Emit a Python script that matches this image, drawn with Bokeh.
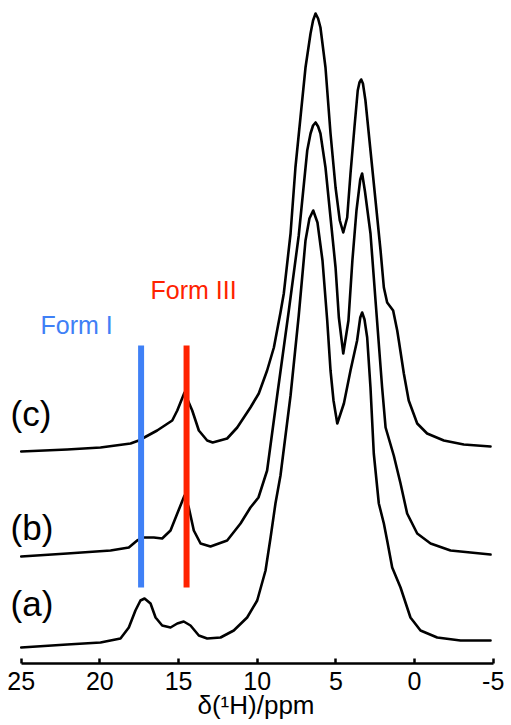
from bokeh.plotting import figure
from bokeh.models import Range1d, FixedTicker, Label, PrintfTickFormatter
from bokeh.embed import file_html
from bokeh.resources import INLINE

# ---- data (chemical shift in ppm, intensity in arbitrary units) ----
trace_a_ppm = [25.0, 22.08, 19.96, 18.69, 18.16, 17.74, 17.42, 17.16, 16.78, 16.46,
               16.04, 15.51, 15.08, 14.67, 14.24, 13.71, 13.18, 12.33, 11.49, 10.64,
               10.00, 9.47, 9.15, 8.84, 8.52, 7.88, 7.36, 6.93, 6.68, 6.44,
               6.17, 5.85, 5.55, 5.34, 5.15, 4.91, 4.49, 4.07, 3.65, 3.45, 3.33,
               3.18, 3.01, 2.80, 2.59, 2.27, 1.95, 1.74, 1.42, 0.89, 0.26, -0.38,
               -1.44, -2.92, -4.83]
trace_a_int = [0, 3, 5, 9, 20, 37, 47, 49, 44, 30,
               22, 20, 24, 26, 22, 12, 9, 10, 17, 30,
               47, 77, 110, 144, 172, 252, 332, 407, 429, 437,
               425, 387, 327, 277, 247, 224, 244, 277, 307, 330, 335,
               328, 310, 260, 194, 144, 124, 107, 80, 60, 30, 17,
               10, 7, 7]

trace_b_ppm = [25.0, 22.08, 19.32, 18.16, 17.63, 17.21, 16.57, 16.04, 15.51, 15.08,
               14.62, 14.35, 14.03, 13.60, 12.97, 11.91, 11.06, 10.43, 9.92, 9.37,
               8.73, 7.99, 7.36, 6.82, 6.61, 6.45, 6.29, 6.13, 5.98, 5.66, 5.34, 5.02,
               4.81, 4.53, 4.20, 3.95, 3.69, 3.45, 3.33, 3.15, 2.80, 2.48, 2.06, 1.84,
               1.32, 0.89, 0.47, -0.17, -1.02, -2.29, -4.83]
trace_b_int = [0, 3, 6, 9, 16, 19, 19, 18, 26, 43,
               61, 49, 26, 13, 10, 16, 33, 49, 59, 86,
               161, 246, 321, 406, 423, 431, 434, 430, 423, 389, 339, 289,
               239, 203, 236, 296, 346, 377, 383, 365, 323, 256, 169, 129,
               101, 73, 43, 23, 13, 6, 2]

trace_c_ppm = [25.0, 22.08, 19.96, 18.05, 17.53, 16.36, 15.40, 15.08, 14.62, 14.13,
               13.71, 13.18, 12.83, 11.91, 11.27, 10.43, 9.90, 9.37, 8.94, 8.52,
               8.31, 7.88, 7.57, 7.25, 6.93, 6.61, 6.45, 6.29, 6.13, 5.98, 5.66, 5.34,
               5.02, 4.75, 4.53, 4.28, 4.07, 3.82, 3.61, 3.50, 3.39, 3.28, 3.12, 2.80,
               2.48, 2.16, 1.95, 1.74, 1.36, 1.10, 1.00, 0.68, 0.37, -0.17,
               -0.80, -1.86, -3.13, -4.83]
trace_c_int = [0, 2, 4, 8, 11, 21, 31, 41, 59, 41,
               21, 11, 9, 13, 24, 44, 58, 81, 104, 139,
               158, 218, 284, 334, 384, 418, 431, 438, 433, 424, 384, 318,
               264, 231, 219, 234, 278, 324, 361, 369, 372, 368, 351, 301,
               251, 201, 164, 149, 141, 121, 111, 78, 51, 28,
               18, 11, 7, 5]

trace_labels = ["(a)", "(b)", "(c)"]
form_names = ["Form I", "Form III"]
form_ppm = [17.38, 14.49]
tick_values = [25, 20, 15, 10, 5, 0, -5]
x_title = "δ(¹H)/ppm"

# ---- styling / layout ----
offsets = [16, 107, 212]
FONT = "Liberation Sans"
BLUE = "#3f80f6"
RED = "#ff2200"

p = figure(width=511, height=725, output_backend="svg", toolbar_location=None,
           x_range=Range1d(26.316, -6.163), y_range=Range1d(0, 663),
           y_axis_location="left", min_border_left=0, min_border_right=0,
           min_border_top=0, min_border_bottom=62)
p.yaxis.visible = False
p.outline_line_color = None
p.grid.visible = False
p.background_fill_color = "white"
p.border_fill_color = "white"

traces = [(trace_a_ppm, trace_a_int), (trace_b_ppm, trace_b_int), (trace_c_ppm, trace_c_int)]
for (xs, ys), off in zip(traces, offsets):
    p.line(xs, [v + off for v in ys], line_color="black", line_width=2.6,
           line_join="round", line_cap="round")

# marker lines for the two forms
p.segment(x0=form_ppm, y0=[76, 76], x1=form_ppm, y1=[318, 318],
          line_color=[BLUE, RED], line_width=6)

# text annotations
label_pos = [(25.68, 60), (25.68, 136), (25.68, 250)]
for txt, (lx, ly) in zip(trace_labels, label_pos):
    p.add_layout(Label(x=lx, y=ly, text=txt, text_font=FONT, text_font_size="35px",
                       text_color="black", text_baseline="alphabetic", text_align="left"))
p.add_layout(Label(x=23.77, y=339, text=form_names[0], text_font=FONT, text_font_size="25px",
                   text_color=BLUE, text_baseline="alphabetic", text_align="left"))
p.add_layout(Label(x=16.78, y=374, text=form_names[1], text_font=FONT, text_font_size="25px",
                   text_color=RED, text_baseline="alphabetic", text_align="left"))

xa = p.xaxis[0]
xa.ticker = FixedTicker(ticks=tick_values)
xa.formatter = PrintfTickFormatter(format="%d")
xa.bounds = (-5, 25)
xa.major_tick_in = 5
xa.major_tick_out = 0
xa.minor_tick_line_color = None
xa.axis_line_width = 2.5
xa.major_tick_line_width = 2.5
xa.axis_line_color = "black"
xa.major_tick_line_color = "black"
xa.major_label_text_font = FONT
xa.major_label_text_font_size = "25px"
xa.major_label_text_color = "black"
xa.major_label_standoff = 8
xa.axis_label = x_title
xa.axis_label_text_font = FONT
xa.axis_label_text_font_size = "26px"
xa.axis_label_text_font_style = "normal"
xa.axis_label_text_color = "black"
xa.axis_label_standoff = -3

open("out.html", "w").write(file_html(p, INLINE))
